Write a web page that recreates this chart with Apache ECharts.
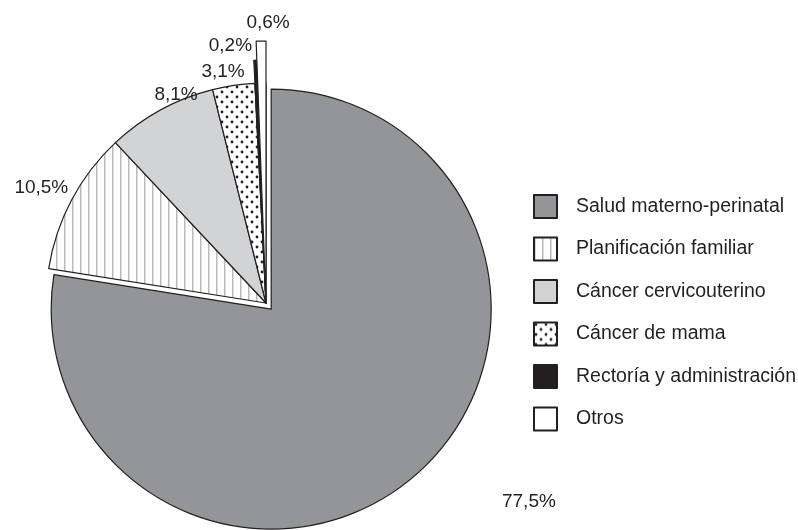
<!DOCTYPE html>
<html>
<head>
<meta charset="utf-8">
<script src="https://cdn.jsdelivr.net/npm/echarts@6/dist/echarts.min.js"></script>
<style>
  html, body { margin: 0; padding: 0; background: #fff; }
  #chart { width: 798px; height: 530px; }
</style>
</head>
<body>
<div id="chart"></div>
<script>
// datos
const categories = [
  'Salud materno-perinatal',
  'Planificación familiar',
  'Cáncer cervicouterino',
  'Cáncer de mama',
  'Rectoría y administración',
  'Otros',
];
const shares = [77.5, 10.5, 8.1, 3.1, 0.2, 0.6];

// estilo
const ink = '#231f20';
const baseR = 220;
const longR = [0, 0, 0, 0, 243, 262]; // rebanadas que sobresalen
const labelNudge = [[79, 21], [7, -9], [45, -10], [17, -8], [1, -31], [33, -54]];
const font = 'Liberation Sans, Arial, sans-serif';

const stripes = (() => {
  const c = document.createElement('canvas');
  c.width = 8; c.height = 8;
  const g = c.getContext('2d');
  g.fillStyle = '#fff'; g.fillRect(0, 0, 8, 8);
  g.fillStyle = '#b9babc'; g.fillRect(0, 0, 1.5, 8);
  return c;
})();
const dots = (() => {
  const c = document.createElement('canvas');
  c.width = 10; c.height = 10;
  const g = c.getContext('2d');
  g.fillStyle = '#fff'; g.fillRect(0, 0, 10, 10);
  g.fillStyle = ink;
  [[2, 2], [7, 7]].forEach(([x, y]) => {
    g.beginPath(); g.arc(x, y, 1.4, 0, Math.PI * 2); g.fill();
  });
  return c;
})();

const fills = [
  '#939598',
  { image: stripes, repeat: 'repeat' },
  '#d1d3d4',
  { image: dots, repeat: 'repeat' },
  ink,
  '#ffffff',
];

const fmt = (v) => v.toFixed(1).replace('.', ',') + '%';
const center = [266, 303];

const mainData = categories.map((name, i) => ({
  name,
  value: shares[i],
  selected: i === 0,
  itemStyle: { color: fills[i] },
}));

// capas para las rebanadas más largas
const overlay = (r) => ({
  type: 'pie',
  center,
  radius: [0, r],
  silent: true,
  animation: false,
  avoidLabelOverlap: false,
  label: { show: false },
  labelLine: { show: false },
  data: categories.map((name, i) => ({
    name,
    value: shares[i],
    itemStyle: longR[i] === r
      ? { color: fills[i], borderColor: ink, borderWidth: 1.2 }
      : { color: 'transparent', borderWidth: 0 },
  })),
});

const chart = echarts.init(document.getElementById('chart'));
chart.setOption({
  animation: false,
  legend: {
    orient: 'vertical',
    left: 528,
    top: 189,
    itemWidth: 23,
    itemHeight: 23,
    itemGap: 17.5,
    icon: 'rect',
    selectedMode: false,
    itemStyle: { borderWidth: 2 },
    textStyle: {
      color: ink,
      fontSize: 19.5,
      fontFamily: font,
      padding: [0, 0, 0, 14],
    },
    data: categories,
  },
  series: [
    {
      type: 'pie',
      center,
      radius: [0, baseR],
      selectedMode: 'single',
      selectedOffset: 8,
      avoidLabelOverlap: false,
      itemStyle: { borderColor: ink, borderWidth: 1.2 },
      emphasis: { disabled: true },
      label: {
        position: 'outside',
        color: ink,
        fontSize: 19,
        fontFamily: font,
        formatter: (p) => fmt(p.value),
      },
      labelLine: { show: false, length: 6, length2: 0 },
      labelLayout: (p) => ({ dx: labelNudge[p.dataIndex][0], dy: labelNudge[p.dataIndex][1] }),
      data: mainData,
    },
    overlay(243),
    overlay(262),
  ],
});
</script>
</body>
</html>
